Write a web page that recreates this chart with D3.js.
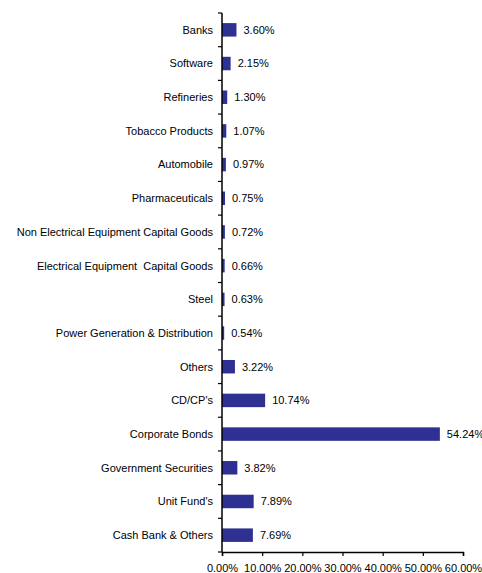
<!DOCTYPE html>
<html>
<head>
<meta charset="utf-8">
<script src="https://cdn.jsdelivr.net/npm/d3@7"></script>
<style>
  body { margin: 0; background: #fff; }
  svg { display: block; font-family: "Liberation Sans", Arial, sans-serif; }
</style>
</head>
<body>
<div id="container"></div>
<script>
/* DATA */
const categories = [
  "Banks", "Software", "Refineries", "Tobacco Products", "Automobile",
  "Pharmaceuticals", "Non Electrical Equipment\u00a0Capital Goods",
  "Electrical Equipment  Capital Goods", "Steel",
  "Power Generation & Distribution", "Others", "CD/CP's",
  "Corporate Bonds", "Government Securities", "Unit Fund's",
  "Cash Bank & Others"
];
const values = [3.60, 2.15, 1.30, 1.07, 0.97, 0.75, 0.72, 0.66, 0.63, 0.54,
  3.22, 10.74, 54.24, 3.82, 7.89, 7.69];
const xTicks = [0, 10, 20, 30, 40, 50, 60];

/* CONSTANTS */
const width = 482, height = 573,
  margin = { top: 13, bottom: 21, left: 222, right: 19 };

const svg = d3.select("#container")
  .append("svg")
  .attr("width", width)
  .attr("height", height);

const x = d3.scaleLinear()
  .domain([0, 60])
  .range([margin.left, width - margin.right]);

const y = d3.scaleBand()
  .domain(categories)
  .range([margin.top, height - margin.bottom])
  .paddingInner(0.6)
  .paddingOuter(0.3);

// BARS
svg.selectAll("rect.bar")
  .data(categories)
  .join("rect")
  .attr("class", "bar")
  .attr("x", x(0))
  .attr("y", d => y(d))
  .attr("width", (d, i) => x(values[i]) - x(0))
  .attr("height", y.bandwidth())
  .attr("fill", "#2E3192");

// VALUE LABELS (the big one runs off the right edge, as in the original)
svg.selectAll("text.val")
  .data(categories)
  .join("text")
  .attr("class", "val")
  .attr("x", (d, i) => x(values[i]) + 7)
  .attr("y", d => y(d) + y.bandwidth() / 2)
  .attr("dy", "0.35em")
  .style("font-size", "11px")
  .attr("fill", "#000")
  .text((d, i) => values[i].toFixed(2) + "%");

// CATEGORY LABELS
svg.selectAll("text.cat")
  .data(categories)
  .join("text")
  .attr("class", "cat")
  .attr("x", margin.left - 9)
  .attr("y", d => y(d) + y.bandwidth() / 2)
  .attr("dy", "0.35em")
  .attr("text-anchor", "end")
  .style("font-size", "11px")
  .style("white-space", "pre")
  .attr("fill", "#000")
  .text(d => d);

// Y AXIS LINE + TICKS BETWEEN CATEGORIES
const yTop = margin.top, yBot = height - margin.bottom;
svg.append("line")
  .attr("x1", x(0)).attr("x2", x(0))
  .attr("y1", yTop).attr("y2", yBot)
  .attr("stroke", "#000").attr("stroke-width", 1.5);

const step = (yBot - yTop) / categories.length;
svg.selectAll("line.ytick")
  .data(d3.range(categories.length + 1))
  .join("line")
  .attr("class", "ytick")
  .attr("x1", x(0) - 4).attr("x2", x(0))
  .attr("y1", i => yTop + i * step)
  .attr("y2", i => yTop + i * step)
  .attr("stroke", "#000").attr("stroke-width", 1.2);

// X AXIS
const xAxis = svg.append("g")
  .attr("transform", `translate(0, ${yBot})`)
  .call(d3.axisBottom(x).tickValues(xTicks).tickSize(4).tickPadding(8)
    .tickFormat(d => d.toFixed(2) + "%"));
xAxis.select(".domain").attr("stroke", "#000").attr("stroke-width", 1.5);
xAxis.selectAll(".tick line").attr("stroke", "#000").attr("stroke-width", 1.2);
xAxis.selectAll(".tick text")
  .style("font-size", "11px")
  .style("font-family", "Liberation Sans, Arial, sans-serif")
  .attr("fill", "#000");
</script>
</body>
</html>
